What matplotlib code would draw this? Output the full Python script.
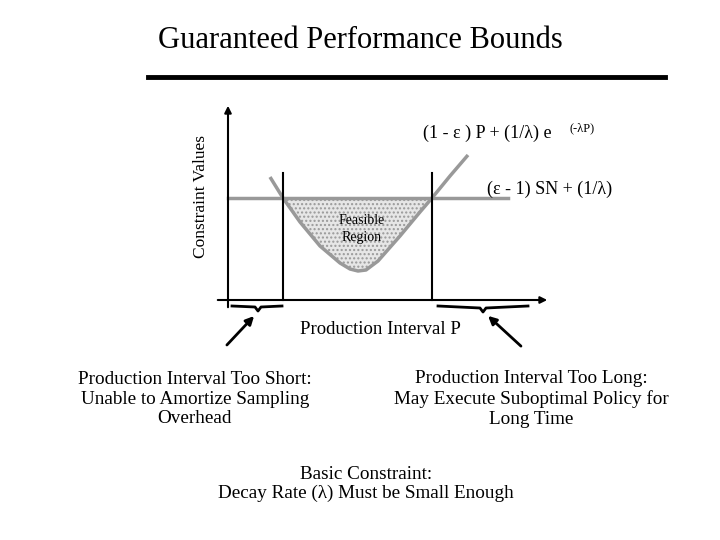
import matplotlib
matplotlib.use("Agg")
import matplotlib.pyplot as plt
import numpy as np

title = "Guaranteed Performance Bounds"
curve_x = [270, 283, 300, 320, 340, 350, 358, 366, 378, 400, 420, 432, 450, 468]
curve_y = [177, 198, 222, 246, 263, 269, 271, 270, 261, 236, 212, 198, 176, 155]
bound_y = 198
left_x, right_x = 283, 432

plt.rcParams['font.family'] = ['Liberation Serif', 'DejaVu Serif']
fig = plt.figure(figsize=(7.2, 5.4), dpi=100)
ax = fig.add_axes([0, 0, 1, 1])
ax.set_xlim(0, 720); ax.set_ylim(540, 0); ax.axis('off')

ax.text(360, 40, title, ha='center', va='center', fontsize=22)
ax.plot([148, 665], [77, 77], color='black', lw=3.5)

ax.annotate('', xy=(228, 103), xytext=(228, 310),
            arrowprops=dict(arrowstyle='-|>', color='black', lw=1.5, mutation_scale=10))
ax.annotate('', xy=(550, 300), xytext=(215, 300),
            arrowprops=dict(arrowstyle='-|>', color='black', lw=1.5, mutation_scale=10))
ax.text(201, 196, "Constraint Values", rotation=90, ha='center', va='center', fontsize=12.5)

cx = np.array(curve_x); cy = np.array(curve_y)
m = (cx >= left_x) & (cx <= right_x)
ax.fill_between(cx[m], cy[m], bound_y, facecolor='#e6e6e6', hatch='....', edgecolor='#999999', lw=0)
ax.plot([228, 508], [bound_y, bound_y], color='#999999', lw=2.5)
ax.plot(curve_x, curve_y, color='#999999', lw=2.5, solid_capstyle='butt', solid_joinstyle='round')
for x in (left_x, right_x):
    ax.plot([x, x], [173, 300], color='black', lw=1.5)

ax.text(362, 229, "Feasible\nRegion", ha='center', va='center', fontsize=10, linespacing=1.3)
ax.text(423, 133, "(1 - ε ) P + (1/λ) e", ha='left', va='center', fontsize=13)
ax.text(570, 128, "(-λP)", ha='left', va='center', fontsize=9)
ax.text(487, 189, "(ε - 1) SN + (1/λ)", ha='left', va='center', fontsize=13)

ax.plot([232, 255, 258, 261, 282], [306, 307, 311, 307, 306], color='black', lw=2)
ax.plot([438, 480, 483, 486, 528], [306, 308, 312, 308, 306], color='black', lw=2)
ax.text(380, 330, "Production Interval P", ha='center', va='center', fontsize=13.5)
ax.annotate('', xy=(256, 314), xytext=(225, 347),
            arrowprops=dict(arrowstyle='-|>', color='black', lw=2, mutation_scale=12))
ax.annotate('', xy=(486, 314), xytext=(523, 348),
            arrowprops=dict(arrowstyle='-|>', color='black', lw=2, mutation_scale=12))

ax.text(195, 399, "Production Interval Too Short:\nUnable to Amortize Sampling\nOverhead",
        ha='center', va='center', fontsize=13.8, linespacing=1.2)
ax.text(531, 399, "Production Interval Too Long:\nMay Execute Suboptimal Policy for\nLong Time",
        ha='center', va='center', fontsize=13.8, linespacing=1.2)
ax.text(366, 484, "Basic Constraint:\nDecay Rate (λ) Must be Small Enough",
        ha='center', va='center', fontsize=13.8, linespacing=1.2)

fig.savefig("out.png", dpi=100)
